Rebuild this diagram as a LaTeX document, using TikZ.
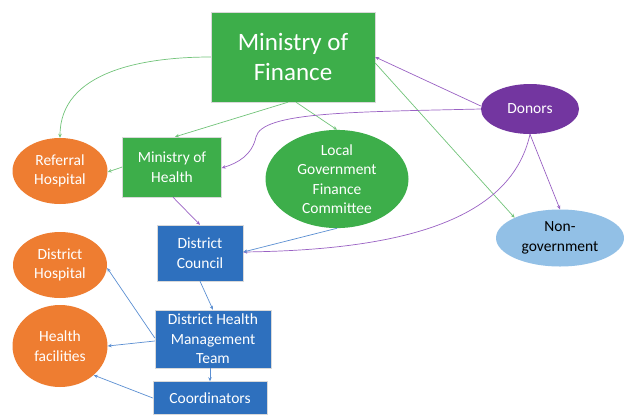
\documentclass[tikz,border=0pt]{standalone}
\usepackage{fontspec}
\setmainfont{Carlito}
\usetikzlibrary{shapes.geometric,arrows.meta}
\definecolor{cgreen}{HTML}{3DAE4A}
\definecolor{corange}{HTML}{EE7D31}
\definecolor{cblue}{HTML}{2E70BE}
\definecolor{cpurple}{HTML}{7336A0}
\definecolor{clight}{HTML}{92C0E6}
\definecolor{lgreen}{HTML}{72C47A}
\definecolor{lpurple}{HTML}{9A62C4}
\definecolor{lblue}{HTML}{5B8FD2}
\tikzset{
  box/.style={rectangle,draw=white!85!black,line width=0.4pt,fill=#1,text=white,align=center,inner sep=0pt,font=\fontsize{15.5}{19.5}\selectfont},
  oval/.style={ellipse,fill=#1,text=white,align=center,inner sep=0pt,font=\fontsize{15.5}{19.5}\selectfont},
  conn/.style={draw=#1,line width=0.7pt,-{Stealth[length=4pt,width=3.5pt]}},
}
\begin{document}
\begin{tikzpicture}[x=1pt,y=-1pt]
\useasboundingbox[fill=white] (0,0) rectangle (624,416);
% nodes
\node[box=cgreen,minimum width=164pt,minimum height=90pt,font=\fontsize{25}{30}\selectfont] (mof) at (293,57) {Ministry of\\Finance};
\node[box=cgreen,minimum width=99pt,minimum height=60pt] (moh) at (172,167) {Ministry of\\Health};
\node[oval=cgreen,minimum width=143pt,minimum height=82pt] (lgfc) at (337,179) {Local\\Government\\Finance\\Committee};
\node[oval=corange,minimum width=95pt,minimum height=66pt] (ref) at (60,171) {Referral\\Hospital};
\node[oval=cpurple,minimum width=98pt,minimum height=50pt] (donors) at (530,109) {Donors};
\node[oval=clight,minimum width=128pt,minimum height=57pt,text=black] (ngo) at (560,238) {Non-\\government};
\node[box=cblue,minimum width=86pt,minimum height=56pt] (dc) at (200,253) {District\\Council};
\node[box=cblue,minimum width=116pt,minimum height=58pt] (dhmt) at (213,339) {District Health\\Management\\Team};
\node[box=cblue,minimum width=114pt,minimum height=33pt] (coord) at (210,398) {Coordinators};
\node[oval=corange,minimum width=94pt,minimum height=66pt] (dh) at (60,265) {District\\Hospital};
\node[oval=corange,minimum width=95pt,minimum height=82pt] (hf) at (60,346) {Health\\facilities};
% green connectors
\draw[conn=lgreen] (mof.west) .. controls (144,57) and (60,71) .. (ref.north);
\draw[conn=lgreen] ([xshift=-5pt]mof.south) -- ([xshift=3pt]moh.north);
\draw[conn=lgreen] ([xshift=3pt]mof.south) -- (lgfc.north);
\draw[conn=lgreen] ([yshift=-6pt]mof.east) -- (ngo.north west);
\draw[conn=lgreen] (moh.west) -- ([yshift=-1pt]ref.east);
% purple connectors
\draw[conn=lpurple] ([yshift=3pt]donors.west) -- (mof.east);
\draw[conn=lpurple] (donors.west) .. controls (350,112) and (262,112) .. (256,137) .. controls (252,155) and (238,163) .. ([yshift=-1pt]moh.east);
\draw[conn=lpurple] (donors.south) .. controls (510,225) and (390,250) .. ([yshift=1pt]dc.east);
\draw[conn=lpurple] (donors.south) -- (ngo.north);
\draw[conn=lpurple] ([xshift=1pt]moh.south) -- (dc.north);
% blue connectors
\draw[conn=lblue] (lgfc.south) -- ([yshift=1pt]dc.east);
\draw[conn=lblue] (dc.south) -- (dhmt.north);
\draw[conn=lblue] (coord.north |- dhmt.south) -- (coord.north);
\draw[conn=lblue] ([yshift=1pt]dhmt.west) -- ([yshift=-3pt]dh.east);
\draw[conn=lblue] ([yshift=-2pt]dhmt.west) -- (hf.east);
\draw[conn=lblue] (coord.west) -- (hf.south east);
\end{tikzpicture}
\end{document}
